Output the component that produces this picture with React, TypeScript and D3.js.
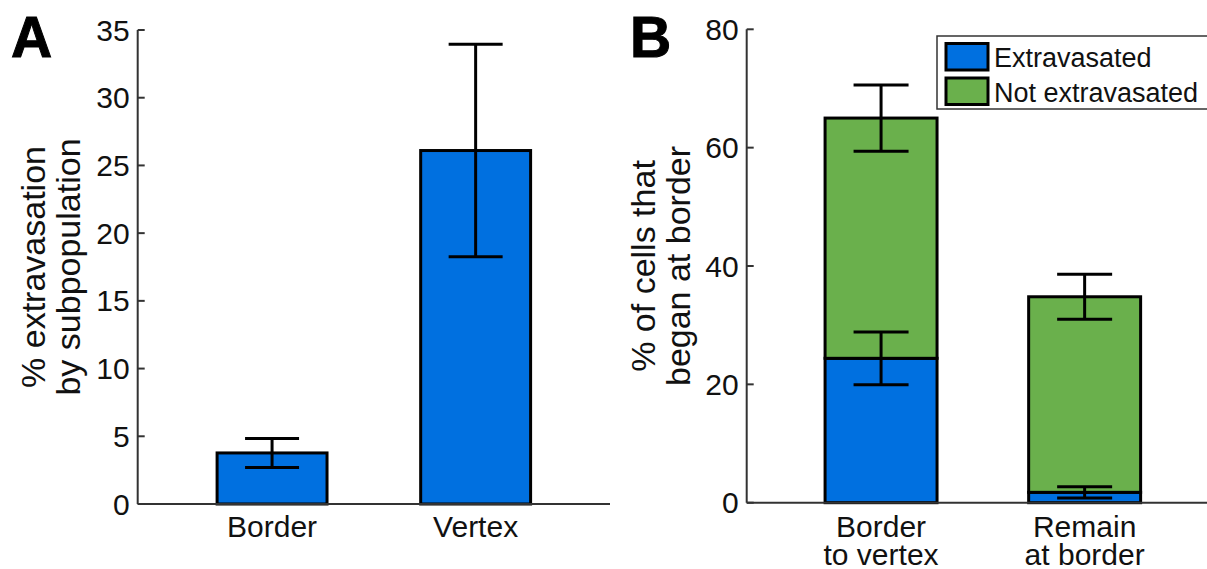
import React from "react";
import * as d3 from "d3";

// Panel A data
const aCategories = ["Border", "Vertex"];
const aValues = [3.77, 26.1];
const aErrors = [1.07, 7.85];
const aTicks = [0, 5, 10, 15, 20, 25, 30, 35];

// Panel B data
const bCategories = [["Border", "to vertex"], ["Remain", "at border"]];
const bExtravasated = [24.4, 1.75];
const bExtravasatedErr = [4.45, 0.95];
const bNotExtravasated = [40.6, 33.05];
const bTotalErr = [5.6, 3.8];
const bTicks = [0, 20, 40, 60, 80];
const legendLabels = ["Extravasated", "Not extravasated"];

const BLUE = "#0070e0";
const GREEN = "#6ab04c";
const FONT = "'Liberation Sans', Arial, Helvetica, sans-serif";

function ErrorBar({ x, y0, y1, half }: { x: number; y0: number; y1: number; half: number }) {
  return (
    <g stroke="#000" strokeWidth={3}>
      <line x1={x} x2={x} y1={y0} y2={y1} />
      <line x1={x - half} x2={x + half} y1={y0} y2={y0} />
      <line x1={x - half} x2={x + half} y1={y1} y2={y1} />
    </g>
  );
}

function YAxis({ x, y, ticks, x1 }: { x: number; y: d3.ScaleLinear<number, number>; ticks: number[]; x1: number }) {
  const [r0, r1] = y.range();
  return (
    <g>
      <line x1={x} x2={x} y1={r0} y2={r1} stroke="#333" strokeWidth={2} />
      <line x1={x} x2={x1} y1={r0} y2={r0} stroke="#333" strokeWidth={2} />
      {ticks.map((t) => (
        <g key={t}>
          <line x1={x} x2={x + 7} y1={y(t)} y2={y(t)} stroke="#333" strokeWidth={2} />
          <text x={x - 8} y={y(t) + 10.5} textAnchor="end" fontSize={30} fontFamily={FONT} fill="#111">
            {t}
          </text>
        </g>
      ))}
    </g>
  );
}

export default function App() {
  // Panel A scales
  const axA = d3.scaleLinear().domain([0.34, 2.66]).range([137.7, 610]);
  const ayA = d3.scaleLinear().domain([0, 35]).range([504, 30]);
  const bwA = 0.54;
  const unitA = axA(1) - axA(0);

  // Panel B scales
  const axB = d3.scaleLinear().domain([0.34, 2.66]).range([746.7, 1219]);
  const ayB = d3.scaleLinear().domain([0, 80]).range([502.7, 29.3]);
  const bwB = 0.55;
  const unitB = axB(1) - axB(0);

  const stacked = d3.stack<number>().keys(["ext", "not"]).value((i, key) =>
    key === "ext" ? bExtravasated[i] : bNotExtravasated[i]
  )(d3.range(bCategories.length));
  const colors = [BLUE, GREEN];

  return (
    <svg
      width={1207}
      height={569}
      style={{ position: "absolute", left: 0, top: 0, background: "#fff" }}
      fontFamily={FONT}
    >
      <rect width={1207} height={569} fill="#fff" />
      {/* Panel A */}
      <text x={11} y={57} fontSize={57} fontWeight={900} fontFamily={FONT} fill="#000" stroke="#000" strokeWidth={1}>A</text>
      <text
        transform={`translate(45,${(ayA(0) + ayA(35)) / 2}) rotate(-90)`}
        textAnchor="middle"
        fontSize={34}
        fill="#111"
      >
        % extravasation
      </text>
      <text
        transform={`translate(80,${(ayA(0) + ayA(35)) / 2}) rotate(-90)`}
        textAnchor="middle"
        fontSize={34}
        fill="#111"
      >
        by subpopulation
      </text>
      {aValues.map((v, i) => (
        <rect
          key={i}
          x={axA(i + 1 - bwA / 2)}
          y={ayA(v)}
          width={bwA * unitA}
          height={ayA(0) - ayA(v)}
          fill={BLUE}
          stroke="#000"
          strokeWidth={3}
        />
      ))}
      {aValues.map((v, i) => (
        <ErrorBar key={i} x={axA(i + 1)} y0={ayA(v + aErrors[i])} y1={ayA(v - aErrors[i])} half={27} />
      ))}
      <YAxis x={137.7} y={ayA} ticks={aTicks} x1={610} />
      {aCategories.map((c, i) => (
        <text key={c} x={axA(i + 1)} y={537} textAnchor="middle" fontSize={30} fill="#111">
          {c}
        </text>
      ))}

      {/* Panel B */}
      <text x={630} y={57} fontSize={57} fontWeight={900} fontFamily={FONT} fill="#000" stroke="#000" strokeWidth={1}>B</text>
      <text
        transform={`translate(655,${(ayB(0) + ayB(80)) / 2}) rotate(-90)`}
        textAnchor="middle"
        fontSize={34}
        fill="#111"
      >
        % of cells that
      </text>
      <text
        transform={`translate(690,${(ayB(0) + ayB(80)) / 2}) rotate(-90)`}
        textAnchor="middle"
        fontSize={34}
        fill="#111"
      >
        began at border
      </text>
      {stacked.map((layer, li) =>
        layer.map((d, i) => (
          <rect
            key={`${li}-${i}`}
            x={axB(i + 1 - bwB / 2)}
            y={ayB(d[1])}
            width={bwB * unitB}
            height={ayB(d[0]) - ayB(d[1])}
            fill={colors[li]}
            stroke="#000"
            strokeWidth={3}
          />
        ))
      )}
      {bExtravasated.map((v, i) => (
        <ErrorBar
          key={`e${i}`}
          x={axB(i + 1)}
          y0={ayB(v + bExtravasatedErr[i])}
          y1={ayB(v - bExtravasatedErr[i])}
          half={27.5}
        />
      ))}
      {bExtravasated.map((v, i) => {
        const total = v + bNotExtravasated[i];
        return (
          <ErrorBar
            key={`t${i}`}
            x={axB(i + 1)}
            y0={ayB(total + bTotalErr[i])}
            y1={ayB(total - bTotalErr[i])}
            half={27.5}
          />
        );
      })}
      <YAxis x={746.7} y={ayB} ticks={bTicks} x1={1219} />
      {bCategories.map((lines, i) => (
        <g key={i}>
          <text x={axB(i + 1)} y={537} textAnchor="middle" fontSize={30} fill="#111">{lines[0]}</text>
          <text x={axB(i + 1)} y={565} textAnchor="middle" fontSize={30} fill="#111">{lines[1]}</text>
        </g>
      ))}

      {/* Legend */}
      <rect x={937} y={36} width={290} height={73} fill="#fff" stroke="#333" strokeWidth={1.5} />
      {legendLabels.map((l, i) => (
        <g key={l}>
          <rect
            x={946}
            y={43.5 + i * 34.5}
            width={42}
            height={26.5}
            fill={colors[i]}
            stroke="#000"
            strokeWidth={3}
          />
          <text x={994} y={66.5 + i * 35} fontSize={27} fill="#111">
            {l}
          </text>
        </g>
      ))}
    </svg>
  );
}
